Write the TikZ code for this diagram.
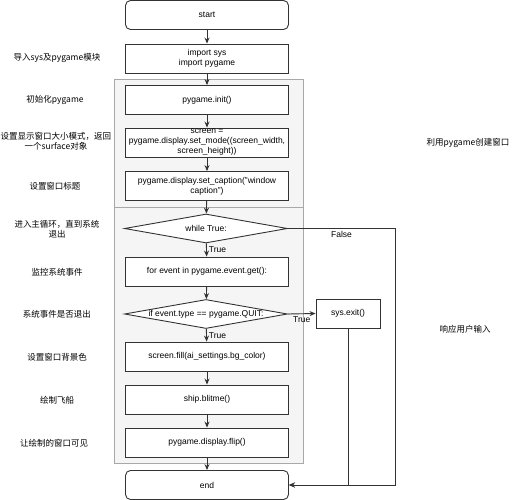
\documentclass[tikz,border=0pt]{standalone}
\usepackage{fontspec}
\setmainfont{Liberation Sans}
\newfontfamily\cjk{Noto Sans CJK SC}
\usetikzlibrary{shapes.geometric,arrows.meta}
\definecolor{groupfill}{HTML}{F5F5F5}
\definecolor{groupline}{HTML}{A8A8A8}
\definecolor{boxline}{HTML}{333333}

\begin{document}
\begin{tikzpicture}[x=1pt, y=-1pt,
    every node/.style={font=\fontsize{8.5}{10}\selectfont},
    stepbox/.style={draw=boxline, fill=white, line width=0.9pt, minimum width=163pt, minimum height=29pt, align=center, inner sep=1pt},
    termbox/.style={stepbox, rounded corners=5pt},
    choice/.style={draw=boxline, fill=white, line width=0.9pt, diamond, minimum width=163pt, minimum height=29pt, inner sep=0pt},
    note/.style={font=\cjk\fontsize{8.5}{10}\selectfont, align=center},
    group/.style={draw=groupline, fill=groupfill, line width=0.8pt},
    flow/.style={draw=boxline, line width=0.9pt, -{Stealth[length=6pt, width=5pt]}},
    tag/.style={inner sep=2pt}]
  \useasboundingbox (0,0) rectangle (525,500);

  % the two grey groups
  \draw[group] (114,79) rectangle (303,207);
  \draw[group] (114,207) rectangle (303,463);

  % main column
  \node[termbox] (start) at (207,15) {start};
  \node[stepbox] (import) at (207,58.5) {import sys\\import pygame};
  \node[stepbox] (init) at (207,100) {pygame.init()};
  \node[stepbox] (screen) at (207,142.5) {screen =\\pygame.display.set\_mode((screen\_width,\\screen\_height))};
  \node[stepbox] (caption) at (207,186) {pygame.display.set\_caption("window\\caption")};
  \node[choice, label={center:while True:}] (loop) at (206,228.5) {};
  \node[stepbox] (events) at (207,271.5) {for event in pygame.event.get():};
  \node[choice, label={center:if event.type == pygame.QUIT:}] (quit) at (206,314) {};
  \node[stepbox, minimum width=64pt] (exit) at (348,313.5) {sys.exit()};
  \node[stepbox] (fill) at (207,356.5) {screen.fill(ai\_settings.bg\_color)};
  \node[stepbox] (ship) at (207,399.5) {ship.blitme()};
  \node[stepbox] (flip) at (207,442.5) {pygame.display.flip()};
  \node[termbox] (end) at (207,485) {end};

  % notes on the left
  \node[note] (n1) at (57,58) {导入sys及pygame模块};
  \node[note] (n2) at (55,100) {初始化pygame};
  \node[note] (n3) at (56,141) {设置显示窗口大小模式，返回\\一个surface对象};
  \node[note] (n4) at (55,186) {设置窗口标题};
  \node[note] (n5) at (57,229) {进入主循环，直到系统\\退出};
  \node[note] (n6) at (57,272) {监控系统事件};
  \node[note] (n7) at (57,314) {系统事件是否退出};
  \node[note] (n8) at (57,357) {设置窗口背景色};
  \node[note] (n9) at (57,400) {绘制飞船};
  \node[note] (n10) at (54,443) {让绘制的窗口可见};

  % notes on the right
  \node[note] (create) at (468,143) {利用pygame创建窗口};
  \node[note] (input) at (465,329) {响应用户输入};

  % connectors
  \draw[flow] (start) -- (import);
  \draw[flow] (import) -- (init);
  \draw[flow] (init) -- (screen);
  \draw[flow] (screen) -- (caption);
  \draw[flow] (caption) -- (loop);
  \draw[flow] (loop) -- node[tag, right] {True} (events);
  \draw[flow] (events) -- (quit);
  \draw[flow] (quit) -- node[tag, right] {True} (fill);
  \draw[flow] (quit.east) -- node[tag, below] {True} (exit.west);
  \draw[flow] (fill) -- (ship);
  \draw[flow] (ship) -- (flip);
  \draw[flow] (flip) -- (end);

  \coordinate (back) at (395,228.5);
  \draw[flow] (loop.east) -- node[tag, below, pos=0.5] {False} (back) |- (end.east);
  \draw[flow] (exit.south) |- (end.east);
\end{tikzpicture}
\end{document}
